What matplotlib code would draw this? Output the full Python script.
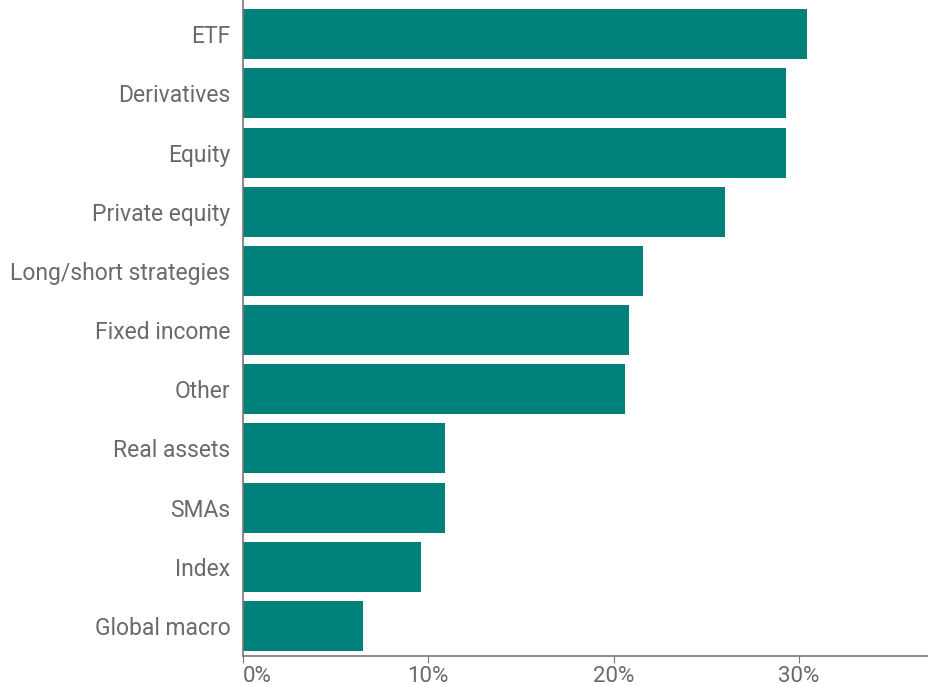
import matplotlib.pyplot as plt
from matplotlib.ticker import FuncFormatter

categories = ['ETF', 'Derivatives', 'Equity', 'Private equity', 'Long/short strategies',
              'Fixed income', 'Other', 'Real assets', 'SMAs', 'Index', 'Global macro']
values = [30.4, 29.3, 29.3, 26.0, 21.6, 20.8, 20.6, 10.9, 10.9, 9.6, 6.5]

teal = '#00807B'
grey = '#6a6a6a'

plt.rcParams['font.family'] = ['Roboto', 'DejaVu Sans']

fig = plt.figure(figsize=(9.29, 6.85), dpi=100)
ax = fig.add_axes([243 / 929, 1 - 656 / 685, (927 - 243) / 929, 656 / 685])

ax.barh(range(len(categories)), values, height=0.845, color=teal)
ax.set_yticks(range(len(categories)))
ax.set_yticklabels(categories)
ax.set_ylim(10.51, -0.58)
ax.set_xlim(0, 36.9)
ax.set_xticks([0, 10, 20, 30])
ax.xaxis.set_major_formatter(FuncFormatter(lambda v, p: f'{v:.0f}%'))

for s in ['top', 'right']:
    ax.spines[s].set_visible(False)
for s in ['left', 'bottom']:
    ax.spines[s].set_color('#777777')
    ax.spines[s].set_linewidth(1.2)

ax.tick_params(axis='y', length=0, pad=9, labelsize=16.5, labelcolor=grey)
ax.tick_params(axis='x', length=5, color='#777777', pad=2, labelsize=16, labelcolor=grey)
fig.canvas.draw()
ax.get_xticklabels()[0].set_horizontalalignment('left')

plt.savefig('out.png', dpi=100)
